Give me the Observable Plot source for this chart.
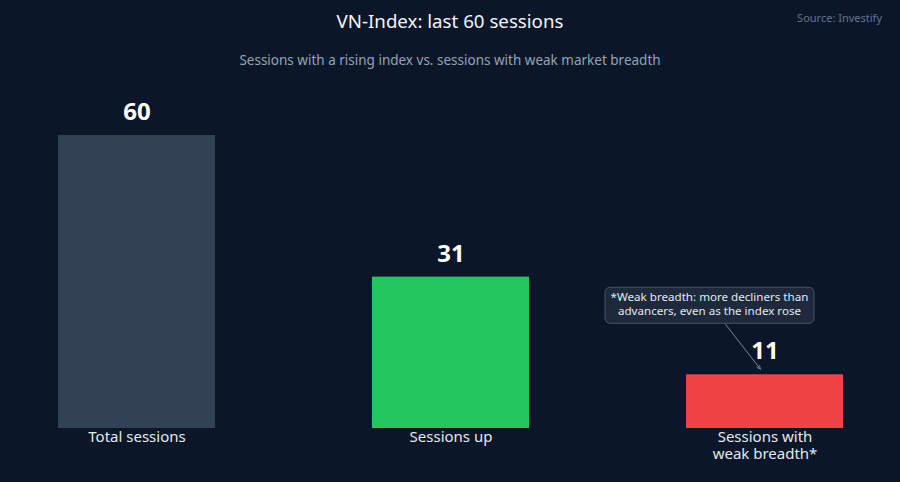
<!DOCTYPE html>
<html>
<head>
<meta charset="utf-8">
<script src="https://cdn.jsdelivr.net/npm/d3@7"></script>
<script src="https://cdn.jsdelivr.net/npm/@observablehq/plot@0.6"></script>
<style>
  html, body { margin: 0; padding: 0; background: #0b1729; }
  #wrap { width: 900px; height: 482px; position: relative; background: #0b1729; font-family: "Noto Sans", sans-serif; overflow: hidden; }
  #head { height: 80px; position: relative; }
  #title { position: absolute; top: 8px; left: 0; width: 900px; text-align: center; color: #f1f5f9; font-size: 18.7px; line-height: 26px; }
  #subtitle { position: absolute; top: 50px; left: 0; width: 900px; text-align: center; color: #94a3b8; font-size: 13.5px; line-height: 20px; }
  #source { position: absolute; top: 10px; right: 18px; color: #64748b; font-size: 11px; line-height: 16px; }
  #chart svg { display: block; }
</style>
</head>
<body>
<div id="wrap">
  <div id="head">
    <div id="title"></div>
    <div id="subtitle"></div>
    <div id="source"></div>
  </div>
  <div id="chart"></div>
</div>
<script>
const titleText = "VN-Index: last 60 sessions";
const subtitleText = "Sessions with a rising index vs. sessions with weak market breadth";
const sourceText = "Source: Investify";

const categories = ["Total sessions", "Sessions up", "Sessions with weak breadth*"];
const categoryLabels = [["Total sessions"], ["Sessions up"], ["Sessions with", "weak breadth*"]];
const values = [60, 31, 11];
const colors = ["#334155", "#22c55e", "#ef4444"];

const noteLines = ["*Weak breadth: more decliners than", "advancers, even as the index rose"];
const noteCategory = "Sessions with weak breadth*";

document.getElementById("title").textContent = titleText;
document.getElementById("subtitle").textContent = subtitleText;
document.getElementById("source").textContent = sourceText;

const data = categories.map((c, i) => ({category: c, value: values[i], color: colors[i], label: categoryLabels[i].join("\n")}));

const W = 900, H = 402;
const plot = Plot.plot({
  width: W,
  height: H,
  marginLeft: 57,
  marginRight: 57,
  marginTop: 55,
  marginBottom: 54,
  style: {background: "transparent", fontFamily: "Noto Sans, sans-serif", color: "#e2e8f0"},
  x: {domain: categories, paddingInner: 0.5, paddingOuter: 0, axis: null},
  y: {domain: [0, 60], axis: null},
  marks: [
    Plot.barY(data, {x: "category", y: "value", fill: "color"}),
    Plot.text(data, {x: "category", y: "value", text: d => String(d.value), dy: -23, fill: "#ffffff", fontSize: 24, fontWeight: "bold"}),
    Plot.text(data, {x: "category", y: 0, text: "label", dy: 1, lineAnchor: "top", fill: "#e2e8f0", fontSize: 15, lineHeight: 1.15})
  ]
});
document.getElementById("chart").appendChild(plot);

// Annotation positioned via the plot's own scales
const xs = plot.scale("x"), ys = plot.scale("y");
const cx = xs.apply(noteCategory) + xs.bandwidth / 2;
const noteValue = values[categories.indexOf(noteCategory)];
const barTop = ys.apply(noteValue);
const svg = d3.select(plot);
const defs = svg.append("defs");
defs.append("marker").attr("id", "arrowhead").attr("viewBox", "0 0 10 10").attr("refX", 9).attr("refY", 5)
  .attr("markerWidth", 6).attr("markerHeight", 6).attr("orient", "auto")
  .append("path").attr("d", "M0,1 L9,5 L0,9").attr("fill", "none").attr("stroke", "#94a3b8").attr("stroke-width", 1.2);
const boxCx = cx - 55, boxW = 209, boxH = 36, boxTop = barTop - 87;
const g = svg.append("g");
g.append("line").attr("x1", cx - 39).attr("y1", boxTop + boxH + 1).attr("x2", cx - 4).attr("y2", barTop - 5)
  .attr("stroke", "#94a3b8").attr("stroke-width", 0.8).attr("marker-end", "url(#arrowhead)");
g.append("rect").attr("x", boxCx - boxW / 2).attr("y", boxTop).attr("width", boxW).attr("height", boxH).attr("rx", 5)
  .attr("fill", "#1e293b").attr("stroke", "#475569").attr("stroke-width", 1);
noteLines.forEach((t, i) => {
  g.append("text").attr("x", boxCx).attr("y", boxTop + 11 + i * 14).attr("text-anchor", "middle").attr("dominant-baseline", "middle")
    .attr("fill", "#e2e8f0").attr("font-size", 11.6).attr("font-family", "Noto Sans, sans-serif").text(t);
});
</script>
</body>
</html>
